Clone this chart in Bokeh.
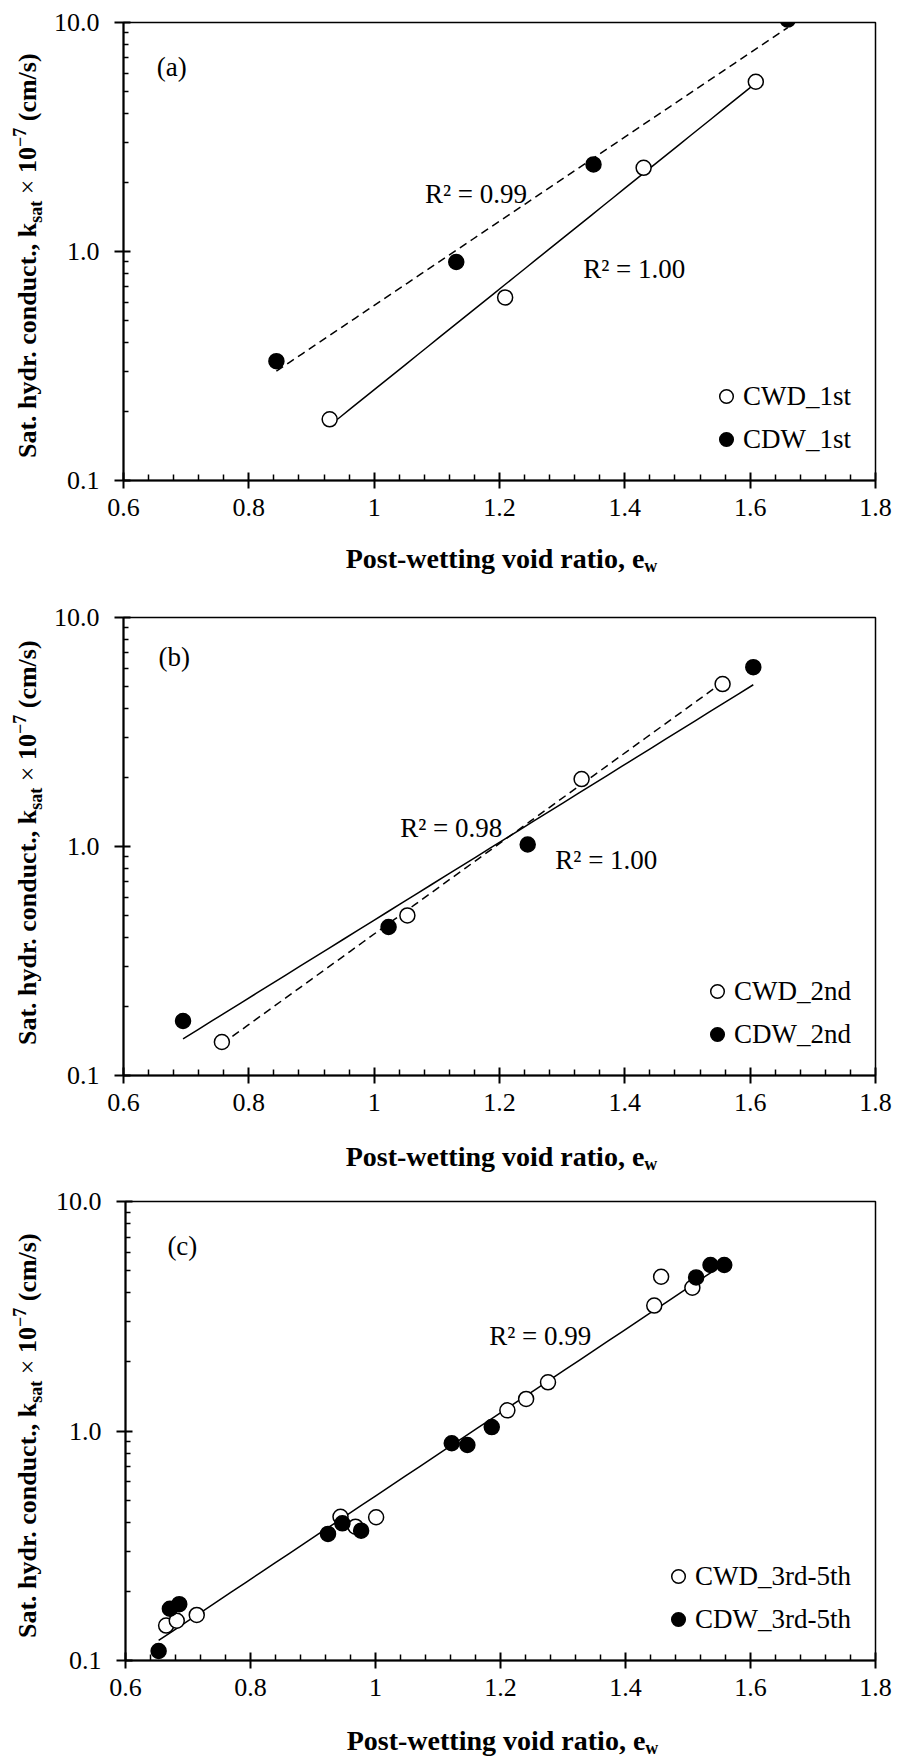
import numpy as np
from bokeh.plotting import figure
from bokeh.models import (Range1d, FixedTicker, CustomJSTickFormatter, Label,
                          Legend, LegendItem, Div)
from bokeh.layouts import column, row
from bokeh.embed import file_html
from bokeh.resources import INLINE

# ---------------- data ----------------
x_major_ticks = [0.6, 0.8, 1.0, 1.2, 1.4, 1.6, 1.8]
x_tick_labels = ["0.6", "0.8", "1", "1.2", "1.4", "1.6", "1.8"]
y_major_ticks = [0.1, 1.0, 10.0]
y_tick_labels = ["0.1", "1.0", "10.0"]

# (a) first cycle
a_cwd_e = [0.929, 1.209, 1.430, 1.609]
a_cwd_k = [0.185, 0.63, 2.32, 5.51]
a_cdw_e = [0.844, 1.131, 1.350, 1.660]
a_cdw_k = [0.332, 0.90, 2.40, 10.3]
a_names = ["CWD_1st", "CDW_1st"]
a_r2 = ["R² = 0.99", "R² = 1.00"]

# (b) second cycle
b_cwd_e = [0.757, 1.053, 1.331, 1.556]
b_cwd_k = [0.140, 0.50, 1.97, 5.12]
b_cdw_e = [0.695, 1.023, 1.245, 1.605]
b_cdw_k = [0.173, 0.445, 1.02, 6.07]
b_names = ["CWD_2nd", "CDW_2nd"]
b_r2 = ["R² = 0.98", "R² = 1.00"]

# (c) third to fifth cycles
c_cwd_e = [0.665, 0.682, 0.714, 0.944, 0.968, 1.001, 1.211, 1.241, 1.276, 1.446, 1.457, 1.507]
c_cwd_k = [0.142, 0.149, 0.158, 0.423, 0.383, 0.421, 1.23, 1.38, 1.63, 3.52, 4.70, 4.21]
c_cdw_e = [0.653, 0.671, 0.686, 0.924, 0.947, 0.977, 1.122, 1.147, 1.186, 1.513, 1.536, 1.558]
c_cdw_k = [0.110, 0.168, 0.176, 0.356, 0.396, 0.368, 0.884, 0.869, 1.04, 4.67, 5.29, 5.29]
c_names = ["CWD_3rd-5th", "CDW_3rd-5th"]
c_r2 = ["R² = 0.99"]

panel_letters = ["(a)", "(b)", "(c)"]

# ---------------- styling helpers ----------------
FONT = "Liberation Serif"
DASH = "8 5"
PAGE_W = 901
YL_W = 48          # width of the strip holding the rotated y title
MID = 0.3375       # baseline -> middle of the text box, in em

x_minor_ticks = [round(0.6 + 0.04 * i, 2) for i in range(31) if i % 5 != 0]
y_minor_ticks = [m * 10.0 ** e for e in (-1, 0) for m in range(2, 10)]

BOLD_W = {'S': 556, 'a': 500, 't': 333, '.': 250, ' ': 250, 'h': 556, 'y': 500,
          'd': 556, 'r': 444, 'c': 444, 'o': 500, 'n': 556, 'u': 556, ',': 250,
          'k': 556, 's': 389, '1': 500, '0': 500, '(': 333, ')': 333, 'm': 833,
          '/': 278, '−': 570, '7': 500, '×': 570, 'P': 611, '-': 333, 'w': 722,
          'e': 444, 'i': 278, 'g': 500, 'v': 500}


def text_w(s, size):
    return sum(BOLD_W.get(ch, 500) for ch in s) * size / 1000.0


def make_fmt(tv, tl):
    return CustomJSTickFormatter(args=dict(tv=tv, tl=tl), code="""
const i = tv.findIndex((t) => Math.abs(t - tick) < 1e-6 * Math.max(1, Math.abs(t)));
return i >= 0 ? tl[i] : "";
""")


def fit_line(xs, ks):
    xs = np.asarray(xs, dtype=float)
    lk = np.log(np.asarray(ks, dtype=float))
    b, a = np.polyfit(xs, lk, 1)
    xx = np.linspace(xs.min(), xs.max(), 40)
    return xx, np.exp(a + b * xx)


def strip(width, height):
    s = figure(width=width, height=height, x_range=Range1d(0, width),
               y_range=Range1d(0, height), min_border=0, title=None,
               x_axis_location=None, y_axis_location=None,
               output_backend="svg", toolbar_location=None)
    s.grid.visible = False
    s.outline_line_color = None
    s.background_fill_color = "white"
    s.border_fill_color = "white"
    return s


SPAN_STYLE = ("position:relative; top:{shift}px; "
              "font-family:'Liberation Serif'; font-size:26px; font-weight:bold; "
              "letter-spacing:0; word-spacing:0; text-orientation:sideways; "
              "color:#000000; white-space:nowrap")
Y_TITLE_HTML = ('<span style="' + SPAN_STYLE + '">'
                'Sat. hydr. conduct., k'
                '<sub style="font-size:18px; line-height:0">sat</sub>'
                '<span style="font-weight:normal"> × </span>10'
                '<sup style="font-size:18px; line-height:0">−7</sup>'
                ' (cm/s)</span>')


def y_title(height, shift):
    return Div(text=Y_TITLE_HTML.format(shift=shift), width=YL_W, height=height,
               margin=0,
               styles={"writing-mode": "vertical-rl",
                       "text-orientation": "sideways",
                       "transform": "rotate(180deg)",
                       "font-family": "'Liberation Serif'",
                       "font-size": "26px", "font-weight": "bold",
                       "color": "#000000", "text-align": "center",
                       "line-height": "56px", "white-space": "nowrap",
                       "background-color": "white"})


def make_panel(main_h, strip_h, left, top, frame_h, fits, hollow, filled, names,
               r2_texts, r2_pos, letter, letter_pos, xlab_base, yshift):
    right = 26
    main_w = PAGE_W - YL_W
    bottom = main_h - top - frame_h
    p = figure(width=main_w, height=main_h, x_range=Range1d(0.6, 1.8),
               y_range=Range1d(0.1, 10.0), y_axis_type="log", title=None,
               output_backend="svg", toolbar_location=None,
               min_border_left=left - YL_W, min_border_right=right,
               min_border_top=top, min_border_bottom=bottom)
    p.xgrid.visible = False
    p.ygrid.visible = False
    p.outline_line_color = "black"
    p.outline_line_width = 1.5
    p.background_fill_color = "white"
    p.border_fill_color = "white"

    p.xaxis.ticker = FixedTicker(ticks=x_major_ticks, minor_ticks=x_minor_ticks)
    p.yaxis.ticker = FixedTicker(ticks=y_major_ticks, minor_ticks=y_minor_ticks)
    p.xaxis.formatter = make_fmt(x_major_ticks, x_tick_labels)
    p.yaxis.formatter = make_fmt(y_major_ticks, y_tick_labels)
    for ax in (p.xaxis, p.yaxis):
        ax.axis_label = None
        ax.axis_line_width = 2
        ax.axis_line_color = "black"
        ax.major_tick_line_width = 2
        ax.minor_tick_line_width = 1.5
        ax.major_tick_line_color = "black"
        ax.minor_tick_line_color = "black"
        ax.minor_tick_out = 0
        ax.major_label_text_font = FONT
        ax.major_label_text_font_size = "26px"
        ax.major_label_text_color = "black"
    p.xaxis.major_tick_in = 8
    p.xaxis.major_tick_out = 8
    p.xaxis.minor_tick_in = 6
    p.xaxis.major_label_standoff = 10
    p.yaxis.major_tick_in = 7
    p.yaxis.major_tick_out = 9
    p.yaxis.minor_tick_in = 5
    p.yaxis.major_label_standoff = 15

    # exponential trendlines (straight on the log axis)
    for xs, ks, dash in fits:
        xx, yy = fit_line(xs, ks)
        p.line(xx, yy, line_color="black", line_width=1.5, line_dash=dash)

    r_h = p.scatter(hollow[0], hollow[1], marker="circle", size=15,
                    fill_color="white", line_color="black", line_width=1.5)
    r_f = p.scatter(filled[0], filled[1], marker="circle", size=15,
                    fill_color="black", line_color="black", line_width=1.5)

    legend = Legend(items=[LegendItem(label=names[0], renderers=[r_h]),
                           LegendItem(label=names[1], renderers=[r_f])],
                    location="bottom_right", glyph_width=34, glyph_height=34,
                    label_height=34, label_standoff=0, spacing=9, padding=12,
                    margin=12, label_text_font=FONT, label_text_font_size="27px",
                    label_text_color="black", border_line_alpha=0,
                    background_fill_alpha=0)
    p.add_layout(legend)

    for txt, (tx, ty) in zip(r2_texts, r2_pos):
        p.add_layout(Label(x=tx, y=ty, text=txt, text_font=FONT,
                           text_font_size="27px", text_color="black",
                           text_baseline="alphabetic", text_align="left"))
    p.add_layout(Label(x=letter_pos[0], y=letter_pos[1], text=letter,
                       text_font=FONT, text_font_size="27px", text_color="black",
                       text_baseline="alphabetic", text_align="left"))

    frame_w = main_w - (left - YL_W) - right

    # ---- rotated y title (HTML, so sub/superscripts are real text) ----
    ys = y_title(main_h, yshift)

    # ---- x title in a strip below ----
    xs_ = strip(PAGE_W, strip_h)
    xpieces = [("Post-wetting void ratio, e", 28, 0), ("w", 18, -5)]
    total = sum(text_w(s, sz) for s, sz, _ in xpieces)
    cx = left + frame_w / 2.0 + 2 - total / 2.0
    for s, sz, sh in xpieces:
        w = text_w(s, sz)
        xs_.add_layout(Label(x=cx + w / 2.0, y=xlab_base + sh + MID * sz, text=s,
                             text_font=FONT, text_font_size=f"{sz}px",
                             text_font_style="bold", text_color="black",
                             text_baseline="middle", text_align="center"))
        cx += w

    return column(row(ys, p, spacing=0), xs_, spacing=0)


pa = make_panel(535, 55, 123, 22, 458,
                [(a_cwd_e, a_cwd_k, "solid"), (a_cdw_e, a_cdw_k, DASH)],
                (a_cwd_e, a_cwd_k), (a_cdw_e, a_cdw_k), a_names,
                a_r2, [(1.081, 1.774), (1.3335, 0.835)],
                panel_letters[0], (0.653, 6.38), 23, 12)
pb = make_panel(540, 50, 123, 27, 458,
                [(b_cwd_e, b_cwd_k, DASH), (b_cdw_e, b_cdw_k, "solid")],
                (b_cwd_e, b_cwd_k), (b_cdw_e, b_cdw_k), b_names,
                b_r2, [(1.0415, 1.207), (1.289, 0.875)],
                panel_letters[1], (0.656, 6.73), 15, 17)
pc = make_panel(535, 42, 125, 21, 459,
                [(c_cwd_e + c_cdw_e, c_cwd_k + c_cdw_k, "solid")],
                (c_cwd_e, c_cwd_k), (c_cdw_e, c_cdw_k), c_names,
                c_r2, [(1.182, 2.59)],
                panel_letters[2], (0.667, 6.42), 8, 12)

layout = column(pa, pb, pc, spacing=0)
open("out.html", "w").write(file_html(layout, INLINE))
